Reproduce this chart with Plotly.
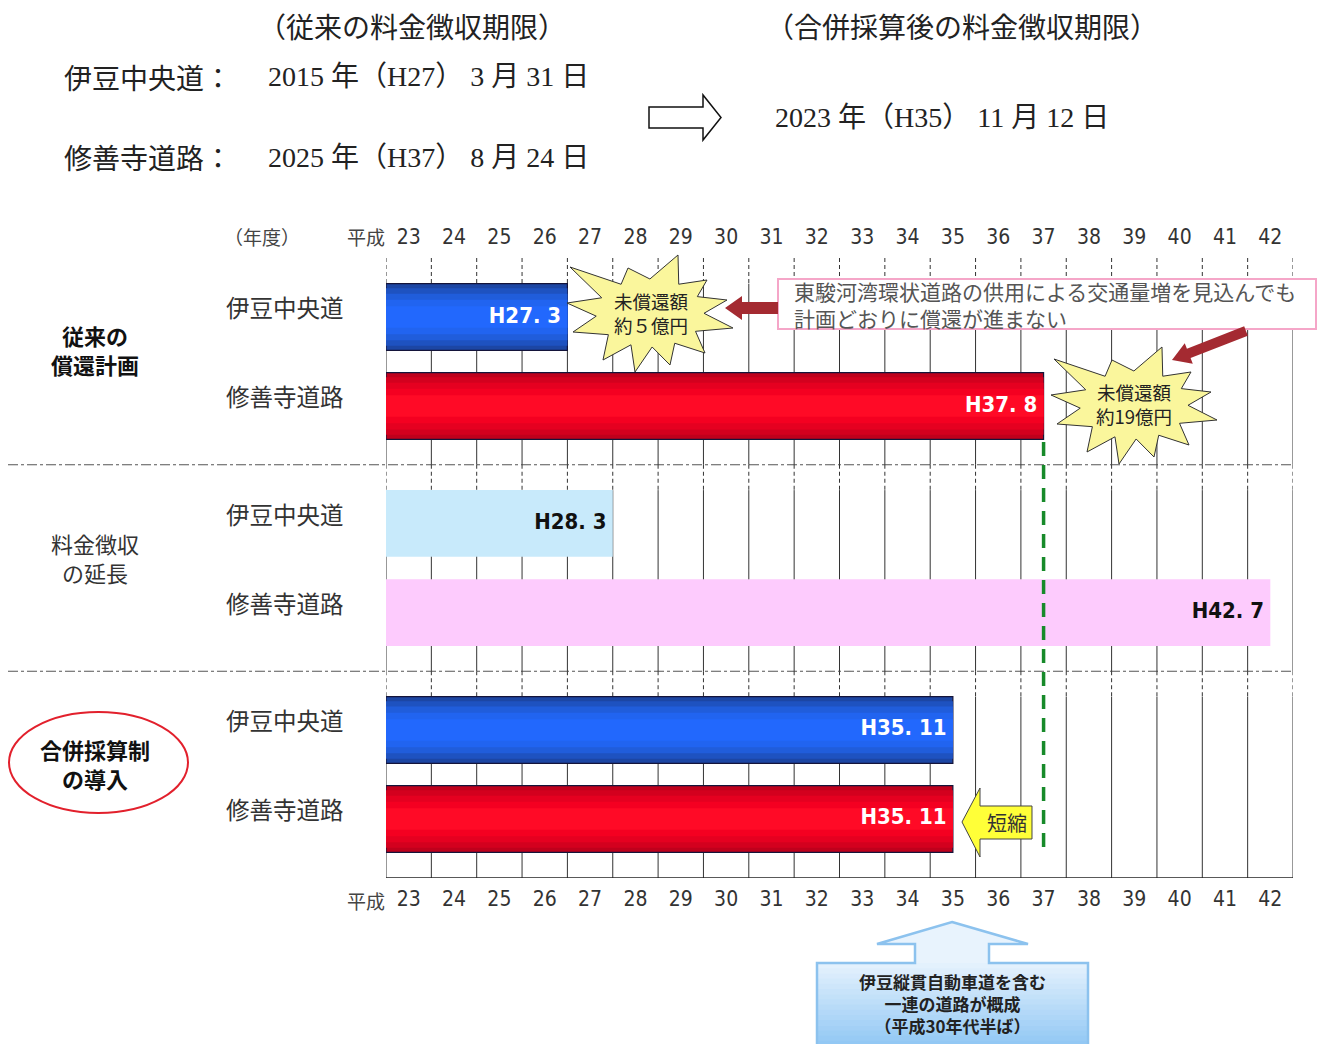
import math
import plotly.graph_objects as go

W, H = 1319, 1044

# ---------------- data ----------------
years = list(range(23, 43))                 # 平成23 .. 平成42 (fiscal years)
tick_labels = [str(y) for y in years]
bar_start = 23
road_names = ["伊豆中央道", "修善寺道路"]
group_names = [["従来の", "償還計画"], ["料金徴収", "の延長"], ["合併採算制", "の導入"]]
ends_plan = [27.0, 37.5]        # 従来の償還計画
ends_extend = [28.0, 42.5]      # 料金徴収の延長
ends_merge = [35.5, 35.5]       # 合併採算制の導入
labels_plan = ["H27. 3", "H37. 8"]
labels_extend = ["H28. 3", "H42. 7"]
labels_merge = ["H35. 11", "H35. 11"]

ends = ends_plan + ends_extend + ends_merge
labels = labels_plan + labels_extend + labels_merge
styles = ["blue", "red", "lightblue", "pink", "blue", "red"]

# ---------------- layout helpers ----------------
G = 2.32            # group spacing in row units
BW = 0.75           # bar thickness in row units
rowpos = [g * G + r for g in range(3) for r in range(2)]
seps = [(rowpos[1] + rowpos[2]) / 2, (rowpos[3] + rowpos[4]) / 2]
Y_TOP, Y_BOT = -0.663, 6.303

JP = "Noto Sans CJK JP, sans-serif"
SERIF = "Liberation Serif, Noto Sans CJK JP, serif"
NARROW = "DejaVu Sans Condensed, DejaVu Sans, sans-serif"


def px(x):
    return x / W


def py(y):
    return 1 - y / H


def T(x, y, text, size, color="#222", bold=False, family=JP, xanchor="center", yref="paper"):
    return dict(x=px(x), y=(py(y) if yref == "paper" else y), xref="paper", yref=yref,
                text=(f"<b>{text}</b>" if bold else text), showarrow=False,
                font=dict(family=family, size=size, color=color),
                xanchor=xanchor, yanchor="middle", align="center" if xanchor == "center" else "left")


def poly(points):
    return "M " + " L ".join(f"{px(a):.5f},{py(b):.5f}" for a, b in points) + " Z"


fig = go.Figure()

# ---------------- bars (gradient by overlaying narrower bars) ----------------
layers = {
    "blue": [(1.0, "#1c46a4"), (0.86, "#1e52c0"), (0.7, "#205ddb"), (0.52, "#2164f0"), (0.32, "#2268fd")],
    "red": [(1.0, "#bf001c"), (0.86, "#d3001e"), (0.7, "#e50020"), (0.52, "#f40021"), (0.32, "#ff0a26")],
    "lightblue": [(1.0, "#c8eafb")],
    "pink": [(1.0, "#fdcbfd")],
}
for style, lay in layers.items():
    idx = [i for i, s in enumerate(styles) if s == style]
    for k, (f, col) in enumerate(lay):
        outline = (k == 0 and style in ("blue", "red"))
        fig.add_trace(go.Bar(
            orientation="h",
            y=[rowpos[i] for i in idx],
            x=[ends[i] - bar_start for i in idx],
            base=bar_start,
            width=BW * f,
            marker=dict(color=col, line=dict(color="#14143a" if outline else col, width=1.2 if outline else 0)),
            hoverinfo="skip", showlegend=False,
        ))

# bar end labels
for dark in (True, False):
    idx = [i for i, s in enumerate(styles) if (s in ("blue", "red")) == dark]
    fig.add_trace(go.Scatter(
        x=[ends[i] for i in idx], y=[rowpos[i] for i in idx],
        mode="text", text=[f"<b>{labels[i]}</b>\u00a0" for i in idx],
        textposition="middle left",
        textfont=dict(family=NARROW, size=22, color="white" if dark else "#111"),
        hoverinfo="skip", showlegend=False,
    ))

# invisible trace for bottom axis
fig.add_trace(go.Scatter(x=[bar_start], y=[rowpos[0]], xaxis="x2", yaxis="y",
                         mode="markers", marker=dict(opacity=0), hoverinfo="skip", showlegend=False))

shapes = []
# vertical grid lines (dashed in gaps above groups)
dashed_zones = [(Y_TOP, rowpos[0] - BW / 2), (seps[0], rowpos[2] - BW / 2), (seps[1], rowpos[4] - BW / 2)]
solid_zones = [(rowpos[0] - BW / 2, seps[0]), (rowpos[2] - BW / 2, seps[1]), (rowpos[4] - BW / 2, Y_BOT)]
grid_x = years + [years[-1] + 1]
for gx in grid_x:
    for (a, b) in dashed_zones:
        shapes.append(dict(type="line", xref="x", yref="y", x0=gx, x1=gx, y0=a, y1=b,
                           line=dict(color="#333", width=1, dash="4px,3px"), layer="below"))
    for (a, b) in solid_zones:
        shapes.append(dict(type="line", xref="x", yref="y", x0=gx, x1=gx, y0=a, y1=b,
                           line=dict(color="#333", width=1), layer="below"))
# group separators
for s in seps:
    shapes.append(dict(type="line", xref="paper", yref="y", x0=px(8), x1=px(1293), y0=s, y1=s,
                       line=dict(color="#555", width=1.2, dash="10px,3px,3px,3px"), layer="below"))
# bottom line
shapes.append(dict(type="line", xref="x", yref="y", x0=grid_x[0], x1=grid_x[-1], y0=Y_BOT, y1=Y_BOT,
                   line=dict(color="#222", width=1.5), layer="below"))
# green dashed line at original 修善寺道路 end
shapes.append(dict(type="line", xref="x", yref="y", x0=ends_plan[1], x1=ends_plan[1],
                   y0=rowpos[1] + BW / 2 + 0.03, y1=rowpos[5] + 0.4,
                   line=dict(color="#178a2a", width=3.5, dash="14px,9px")))

# top arrow (outline)
shapes.append(dict(type="path", xref="paper", yref="paper",
                   path=poly([(649, 107), (703, 107), (703, 95), (721, 117.5), (703, 140), (703, 128), (649, 128)]),
                   fillcolor="white", line=dict(color="#111", width=1.5)))

# starbursts
tips = [(-80, -46), (-22, -45), (28, -58), (57, -33), (77, -13), (83, 15), (55, 40),
        (20, 52), (-15, 59), (-47, 47), (-77, 19), (-83, -10)]


def star(cx, cy, rx=54, ry=34):
    n = len(tips)
    angs = [math.atan2(dy / ry, dx / rx) for dx, dy in tips]
    pts = []
    for i, (dx, dy) in enumerate(tips):
        pts.append((cx + dx, cy + dy))
        a1, a2 = angs[i], angs[(i + 1) % n]
        am = a1 + ((a2 - a1) % (2 * math.pi)) / 2
        pts.append((cx + rx * math.cos(am), cy + ry * math.sin(am)))
    return poly(pts)


for cx, cy in [(650, 313), (1134, 405)]:
    shapes.append(dict(type="path", xref="paper", yref="paper", path=star(cx, cy),
                       fillcolor="#faf69c", line=dict(color="#333", width=1)))

# callout box
shapes.append(dict(type="rect", xref="paper", yref="paper", x0=px(778), x1=px(1316), y0=py(329), y1=py(279),
                   fillcolor="white", line=dict(color="#f5a6c8", width=2)))

# dark red arrows
RED_ARROW = "#a42a31"


def arrow(x0, y0, x1, y1, shaft=6, head=12, hlen=17):
    dx, dy = x1 - x0, y1 - y0
    L = math.hypot(dx, dy)
    ux, uy = dx / L, dy / L
    nx, ny = -uy, ux
    bx, by = x1 - ux * hlen, y1 - uy * hlen
    pts = [(x0 + nx * shaft, y0 + ny * shaft), (bx + nx * shaft, by + ny * shaft), (bx + nx * head, by + ny * head),
           (x1, y1), (bx - nx * head, by - ny * head), (bx - nx * shaft, by - ny * shaft),
           (x0 - nx * shaft, y0 - ny * shaft)]
    return poly(pts)


shapes.append(dict(type="path", xref="paper", yref="paper", path=arrow(778, 308, 725, 308),
                   fillcolor=RED_ARROW, line=dict(width=0)))
shapes.append(dict(type="path", xref="paper", yref="paper", path=arrow(1246, 331, 1172, 360, shaft=5, head=11, hlen=18),
                   fillcolor=RED_ARROW, line=dict(width=0)))

# 短縮 arrow
shapes.append(dict(type="path", xref="paper", yref="paper",
                   path=poly([(962, 822), (980, 788), (980, 806), (1032, 806), (1032, 839), (980, 839), (980, 857)]),
                   fillcolor="#ffff38", line=dict(color="#444", width=1)))

# red ellipse
shapes.append(dict(type="circle", xref="paper", yref="paper", x0=px(9), x1=px(188), y0=py(813), y1=py(712),
                   line=dict(color="#e2202c", width=2)))

# bottom up-arrow callout with gradient
up_pts = [(952, 922), (1028, 944), (989, 944), (989, 963), (1088, 963), (1088, 1046),
          (817, 1046), (817, 963), (915, 963), (915, 944), (877, 944)]
shapes.append(dict(type="path", xref="paper", yref="paper", path=poly(up_pts),
                   fillcolor="#e8f3fd", line=dict(width=0)))
c0, c1 = (230, 242, 253), (144, 199, 244)
n_strip = 16
for i in range(n_strip):
    t = (i + 0.5) / n_strip
    col = "rgb(%d,%d,%d)" % tuple(round(c0[k] + (c1[k] - c0[k]) * t) for k in range(3))
    ya = 963 + (1046 - 963) * i / n_strip
    yb = 963 + (1046 - 963) * (i + 1) / n_strip + 0.6
    shapes.append(dict(type="rect", xref="paper", yref="paper", x0=px(817), x1=px(1088), y0=py(yb), y1=py(ya),
                       fillcolor=col, line=dict(width=0)))
shapes.append(dict(type="path", xref="paper", yref="paper", path=poly(up_pts),
                   fillcolor="rgba(0,0,0,0)", line=dict(color="#8cc2ee", width=2.5)))

# ---------------- annotations ----------------
ann = []
ann.append(T(412, 26, "（従来の料金徴収期限）", 28))
ann.append(T(962, 26, "（合併採算後の料金徴収期限）", 28))
ann.append(T(62, 77, "伊豆中央道：", 28, xanchor="left"))
ann.append(T(62, 157, "修善寺道路：", 28, xanchor="left"))
ann.append(T(266, 77, "2015 年（H27） 3 月 31 日", 28, family=SERIF, xanchor="left"))
ann.append(T(266, 157, "2025 年（H37） 8 月 24 日", 28, family=SERIF, xanchor="left"))
ann.append(T(773, 118, "2023 年（H35） 11 月 12 日", 28, family=SERIF, xanchor="left"))

ann.append(T(262, 236, "（年度）", 19, color="#444"))
ann.append(T(366, 236, "平成", 19, color="#444"))
ann.append(T(366, 900, "平成", 19, color="#444"))

# row labels
for i, rp in enumerate(rowpos):
    ann.append(T(285, rp - 0.11, road_names[i % 2], 23.5, color="#333", yref="y"))

# group labels
ann.append(T(95, 350, "<br>".join(group_names[0]), 22, color="#111", bold=True))
ann.append(T(95, 557, "<br>".join(group_names[1]), 22, color="#333"))
ann.append(T(95, 763, "<br>".join(group_names[2]), 22, color="#111", bold=True))

# starburst texts
ann.append(T(651, 313, "未償還額<br>約５億円", 18.5, color="#222"))
ann.append(T(1134, 404, "未償還額<br>約19億円", 18.5, color="#222"))

# callout text
ann.append(T(792, 304, "東駿河湾環状道路の供用による交通量増を見込んでも<br>計画どおりに償還が進まない",
             21, color="#555", xanchor="left"))

# 短縮
ann.append(T(1007, 822, "短縮", 20, color="#333"))

# bottom callout text
ann.append(T(952, 1003.5, "伊豆縦貫自動車道を含む<br>一連の道路が概成<br>（平成30年代半ば）", 17,
             color="#222", bold=True))

# ---------------- layout ----------------
xdomain = [px(386), px(1293)]
tickfont = dict(family=NARROW, size=21, color="#333")
fig.update_layout(
    width=W, height=H, margin=dict(l=0, r=0, t=0, b=0),
    paper_bgcolor="white", plot_bgcolor="white",
    barmode="overlay", showlegend=False,
    xaxis=dict(domain=xdomain, range=[grid_x[0], grid_x[-1]], side="top", anchor="y",
               tickvals=[y + 0.5 for y in years], ticktext=tick_labels, ticks="",
               showgrid=False, zeroline=False, showline=False, tickfont=tickfont,
               ticklabelstandoff=9, fixedrange=True),
    xaxis2=dict(domain=xdomain, range=[grid_x[0], grid_x[-1]], side="bottom", anchor="y", overlaying="x",
                matches="x", tickvals=[y + 0.5 for y in years], ticktext=tick_labels, ticks="",
                showgrid=False, zeroline=False, showline=False, tickfont=tickfont,
                ticklabelstandoff=6, fixedrange=True),
    yaxis=dict(domain=[py(878), py(258)], range=[Y_BOT, Y_TOP], visible=False, fixedrange=True),
    shapes=shapes, annotations=ann,
)

fig.write_html("out.html", config={"displayModeBar": False},
               post_script="document.body.style.margin='0px';document.body.style.overflow='hidden';")
